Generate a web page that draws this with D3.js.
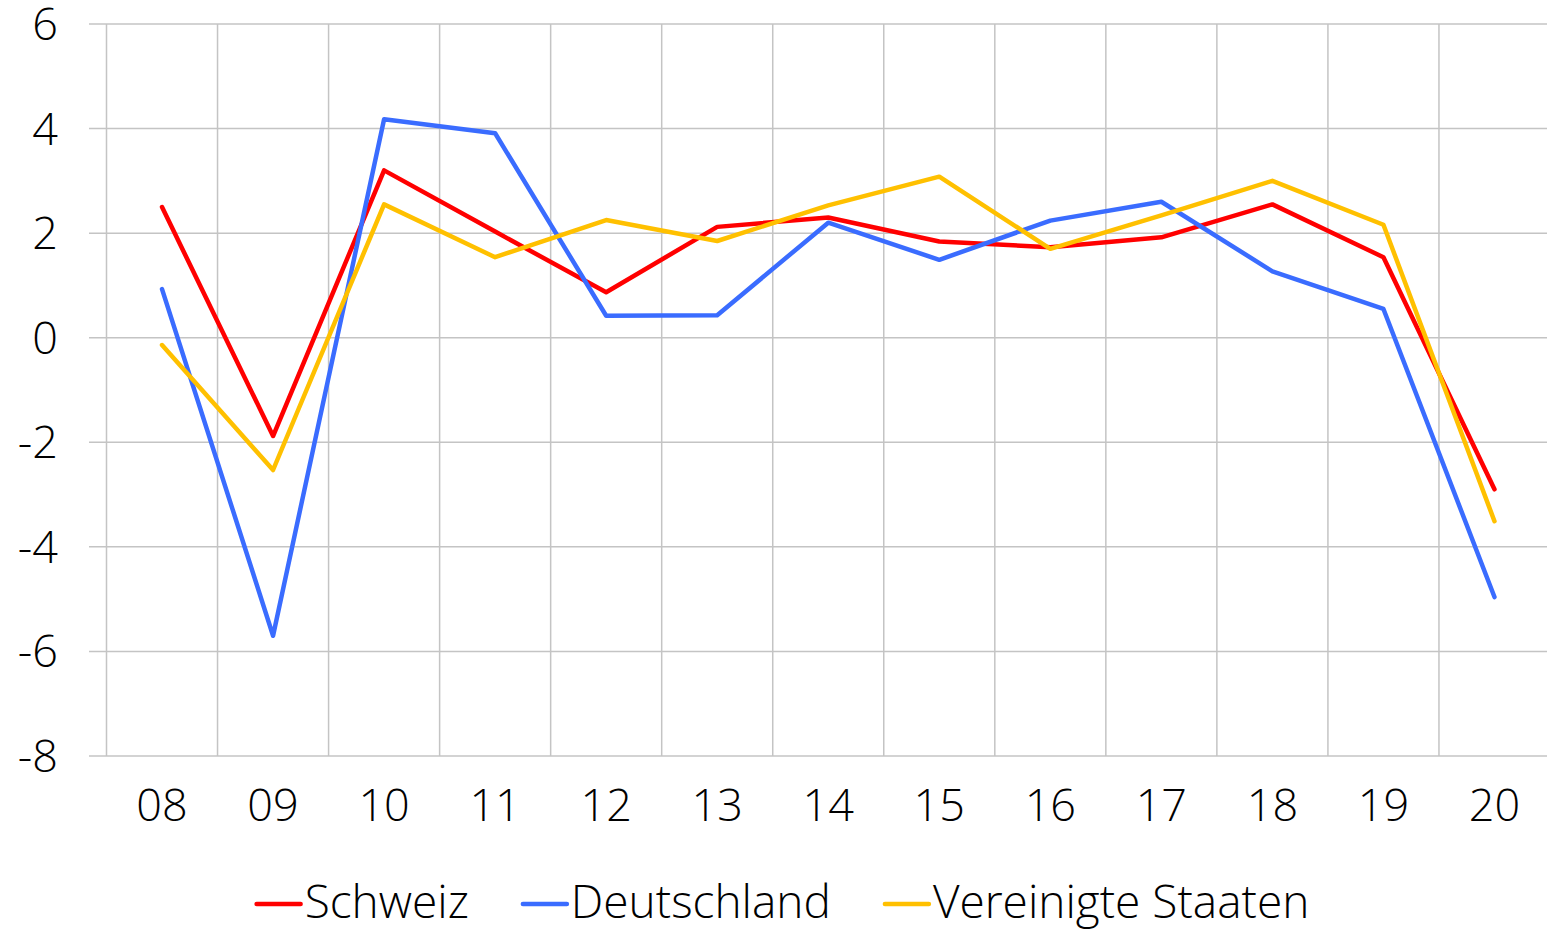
<!DOCTYPE html>
<html>
<head>
<meta charset="utf-8">
<script src="https://cdn.jsdelivr.net/npm/d3@7"></script>
<style>
  body { margin: 0; background: #fff; }
  text { font-family: "Open Sans", sans-serif; font-weight: 300; fill: #000; }
</style>
</head>
<body>
<div class="vis-linechart"></div>
<script>
// categories (years)
const years = ['08','09','10','11','12','13','14','15','16','17','18','19','20'];

// series values
const schweiz     = [2.5, -1.88, 3.2, 2.03, 0.87, 2.12, 2.3, 1.84, 1.73, 1.92, 2.55, 1.54, -2.9];
const deutschland = [0.93, -5.7, 4.18, 3.91, 0.42, 0.43, 2.2, 1.49, 2.24, 2.6, 1.27, 0.55, -4.96];
const usa         = [-0.14, -2.53, 2.55, 1.54, 2.25, 1.85, 2.53, 3.08, 1.7, 2.34, 3.0, 2.16, -3.51];

// y tick labels
const yTicks = [6, 4, 2, 0, -2, -4, -6, -8];

const series = [
  {name: 'Schweiz', values: schweiz, color: '#ff0000'},
  {name: 'Deutschland', values: deutschland, color: '#3a6cff'},
  {name: 'Vereinigte Staaten', values: usa, color: '#ffc000'}
];

const width = 1547, height = 929;

const svg = d3.select('.vis-linechart')
  .append('svg')
    .attr('width', width)
    .attr('height', height);

// scales
const x = d3.scaleBand()
  .domain(years)
  .range([106.5, 1550]);

const y = d3.scaleLinear()
  .domain([-8, 6])
  .range([756, 24]);

// horizontal gridlines
svg.append('g')
  .selectAll('line')
  .data(yTicks)
  .enter()
  .append('line')
    .attr('x1', 89)
    .attr('x2', width)
    .attr('y1', d => y(d))
    .attr('y2', d => y(d))
    .attr('stroke', '#c4c4c4')
    .attr('stroke-width', 1.5);

// vertical gridlines at category boundaries
svg.append('g')
  .selectAll('line')
  .data(years)
  .enter()
  .append('line')
    .attr('x1', d => x(d))
    .attr('x2', d => x(d))
    .attr('y1', y(6))
    .attr('y2', y(-8))
    .attr('stroke', '#c4c4c4')
    .attr('stroke-width', 1.5);

// y labels
svg.append('g')
  .selectAll('text')
  .data(yTicks)
  .enter()
  .append('text')
    .attr('x', 58)
    .attr('y', d => y(d) + 16)
    .attr('text-anchor', 'end')
    .style('font-size', '45px')
    .text(d => d);

// x labels
svg.append('g')
  .selectAll('text')
  .data(years)
  .enter()
  .append('text')
    .attr('x', d => x(d) + x.bandwidth() / 2)
    .attr('y', 821)
    .attr('text-anchor', 'middle')
    .style('font-size', '45px')
    .text(d => d);

// lines
const line = d3.line()
  .x((d, i) => x(years[i]) + x.bandwidth() / 2)
  .y(d => y(d));

svg.append('g')
  .selectAll('path')
  .data(series)
  .enter()
  .append('path')
    .attr('d', d => line(d.values))
    .attr('fill', 'none')
    .attr('stroke', d => d.color)
    .attr('stroke-width', 4.5)
    .attr('stroke-linejoin', 'round')
    .attr('stroke-linecap', 'round');

// legend
const legend = svg.append('g');
const items = legend.selectAll('g')
  .data(series)
  .enter()
  .append('g');

items.append('line')
  .attr('x1', 0)
  .attr('x2', 44)
  .attr('y1', 904)
  .attr('y2', 904)
  .attr('stroke', d => d.color)
  .attr('stroke-width', 4.5)
  .attr('stroke-linecap', 'round');

items.append('text')
  .attr('x', 48)
  .attr('y', 918)
  .style('font-size', '46px')
  .text(d => d.name);

let offset = 0;
items.each(function() {
  const w = d3.select(this).select('text').node().getComputedTextLength();
  d3.select(this).attr('transform', 'translate(' + offset + ',0)');
  offset += 48 + w + 54;
});
const total = offset - 54;
legend.attr('transform', 'translate(' + (783 - total / 2) + ',0)');
</script>
</body>
</html>
